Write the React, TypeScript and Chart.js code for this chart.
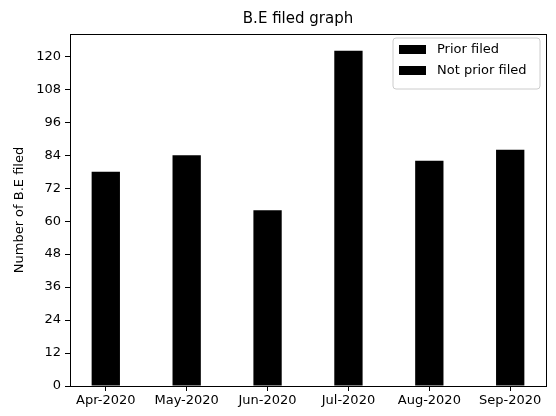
import React, { useEffect, useRef } from "react";
import { Chart, registerables } from "chart.js";

Chart.register(...registerables);

const categories: string[] = ["Apr-2020", "May-2020", "Jun-2020", "Jul-2020", "Aug-2020", "Sep-2020"];
const priorFiled: number[] = [78, 84, 64, 122, 82, 86];
const notPriorFiled: number[] = [0, 0, 0, 0, 0, 0];
const yTicks: number[] = [0, 12, 24, 36, 48, 60, 72, 84, 96, 108, 120];
const seriesNames: string[] = ["Prior filed", "Not prior filed"];
const titleText = "B.E filed graph";
const yTitle = "Number of B.E filed";

const FONT = "'DejaVu Sans', sans-serif";

const overlayPlugin = {
  id: "overlay",
  afterDraw(chart: any) {
    const { ctx, chartArea } = chart;
    const { left, right, top, bottom } = chartArea;
    ctx.save();
    // axes frame
    ctx.strokeStyle = "#000";
    ctx.lineWidth = 1;
    ctx.strokeRect(Math.round(left) + 0.5, Math.round(top) + 0.5, Math.round(right - left), Math.round(bottom - top));
    // title
    ctx.fillStyle = "#000";
    ctx.font = `15px ${FONT}`;
    ctx.textAlign = "center";
    ctx.textBaseline = "middle";
    ctx.fillText(titleText, (left + right) / 2 - 10, 11);
    // legend
    const bw = 147;
    const bx = right - 6 - bw;
    const by = top + 4;
    const bh = 51;
    ctx.beginPath();
    const r = 3;
    ctx.moveTo(bx + r, by);
    ctx.lineTo(bx + bw - r, by);
    ctx.quadraticCurveTo(bx + bw, by, bx + bw, by + r);
    ctx.lineTo(bx + bw, by + bh - r);
    ctx.quadraticCurveTo(bx + bw, by + bh, bx + bw - r, by + bh);
    ctx.lineTo(bx + r, by + bh);
    ctx.quadraticCurveTo(bx, by + bh, bx, by + bh - r);
    ctx.lineTo(bx, by + r);
    ctx.quadraticCurveTo(bx, by, bx + r, by);
    ctx.closePath();
    ctx.fillStyle = "rgba(255,255,255,0.8)";
    ctx.fill();
    ctx.strokeStyle = "#cccccc";
    ctx.stroke();
    ctx.font = `13px ${FONT}`;
    ctx.textAlign = "left";
    seriesNames.forEach((name, i) => {
      const cy = by + 12 + i * 21;
      ctx.fillStyle = "#000";
      ctx.fillRect(bx + 6, cy - 5, 27, 9);
      ctx.fillText(name, bx + 44, cy);
    });
    ctx.restore();
  },
};

export default function App() {
  const ref = useRef<HTMLCanvasElement | null>(null);
  useEffect(() => {
    if (!ref.current) return;
    const chart = new Chart(ref.current, {
      type: "bar",
      data: {
        datasets: [
          {
            label: seriesNames[0],
            data: priorFiled.map((v, i) => ({ x: i, y: v })),
            backgroundColor: "#000",
            borderWidth: 0,
          },
          {
            label: seriesNames[1],
            data: notPriorFiled.map((v, i) => ({ x: i, y: v })),
            backgroundColor: "#000",
            borderWidth: 0,
          },
        ],
      },
      options: {
        animation: false,
        responsive: true,
        maintainAspectRatio: false,
        barPercentage: 0.35,
        categoryPercentage: 1,
        layout: { padding: { top: 26, right: 2, left: 0, bottom: 0 } },
        plugins: {
          legend: { display: false },
          title: { display: false },
          tooltip: { enabled: false },
        },
        scales: {
          x: {
            type: "linear",
            stacked: true,
            offset: false,
            min: -0.4425,
            max: 5.4425,
            afterBuildTicks: (scale: any) => {
              scale.ticks = categories.map((_, i) => ({ value: i }));
            },
            afterFit: (scale: any) => {
              scale.height = 22;
            },
            ticks: {
              color: "#000",
              font: { family: FONT, size: 13 },
              padding: 2,
              maxRotation: 0,
              autoSkip: false,
              callback: (v: any) => categories[Math.round(Number(v))] ?? "",
            },
            grid: { display: true, offset: false, drawOnChartArea: false, drawTicks: true, tickLength: 5, color: "#000" },
            border: { display: true, color: "#000" },
          },
          y: {
            stacked: true,
            min: 0,
            max: 128.1,
            afterBuildTicks: (scale: any) => {
              scale.ticks = yTicks.map((v) => ({ value: v }));
            },
            afterFit: (scale: any) => {
              scale.width = 62;
            },
            ticks: {
              color: "#000",
              font: { family: FONT, size: 13 },
              padding: 4,
            },
            title: {
              display: true,
              text: yTitle,
              color: "#000",
              font: { family: FONT, size: 13 },
              padding: { top: 4, bottom: 0 },
            },
            grid: { display: true, drawOnChartArea: false, drawTicks: true, tickLength: 5, color: "#000" },
            border: { display: true, color: "#000" },
          },
        },
      },
      plugins: [overlayPlugin],
    } as any);
    return () => chart.destroy();
  }, []);
  return (
    <div style={{ width: 540, height: 400, position: "relative" }}>
      <canvas ref={ref} />
    </div>
  );
}
